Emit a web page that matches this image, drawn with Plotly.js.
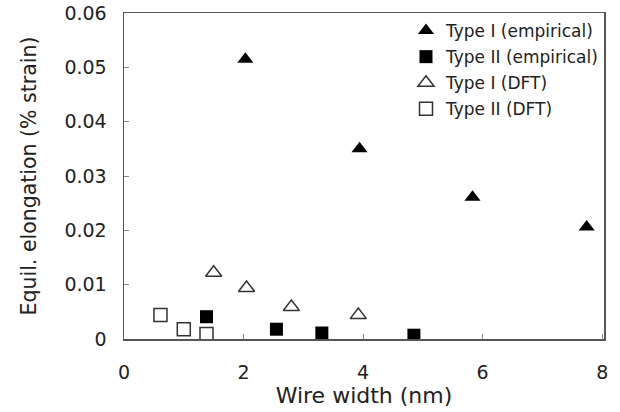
<!DOCTYPE html>
<html>
<head>
<meta charset="utf-8">
<script src="https://cdn.plot.ly/plotly-3.0.1.min.js"></script>
<style>html,body{margin:0;padding:0;background:#fff;}#chart{width:620px;height:412px;}</style>
</head>
<body>
<div id="chart"></div>
<script>
const typeIEmpX = [2.03, 3.94, 5.83, 7.74];
const typeIEmpY = [0.0515, 0.0350, 0.0261, 0.0206];
const typeIIEmpX = [1.38, 2.55, 3.31, 4.85];
const typeIIEmpY = [0.0041, 0.0018, 0.0011, 0.0007];
const typeIDftX = [1.50, 2.05, 2.80, 3.92];
const typeIDftY = [0.0122, 0.0094, 0.0059, 0.0044];
const typeIIDftX = [0.61, 1.00, 1.38];
const typeIIDftY = [0.0044, 0.0018, 0.0009];
const xTicks = [0, 2, 4, 6, 8];
const yTicks = [0, 0.01, 0.02, 0.03, 0.04, 0.05, 0.06];
const yTickText = ['0', '0.01', '0.02', '0.03', '0.04', '0.05', '0.06'];

const FONT = 'DejaVu Sans, Verdana, sans-serif';
const traces = [
  {x: typeIEmpX, y: typeIEmpY, name: 'Type I (empirical)', legendgroup: 'a', mode: 'markers', type: 'scatter',
   marker: {symbol: 'triangle-up', size: 14, color: '#000'}},
  {x: typeIIEmpX, y: typeIIEmpY, name: 'Type II (empirical)', legendgroup: 'b', mode: 'markers', type: 'scatter',
   marker: {symbol: 'square', size: 13, color: '#000'}},
  {x: typeIDftX, y: typeIDftY, name: 'Type I (DFT)', legendgroup: 'c', mode: 'markers', type: 'scatter',
   marker: {symbol: 'triangle-up-open', size: 14, color: '#333', line: {width: 1.5}}},
  {x: typeIIDftX, y: typeIIDftY, name: 'Type II (DFT)', legendgroup: 'd', mode: 'markers', type: 'scatter',
   marker: {symbol: 'square-open', size: 13, color: '#333', line: {width: 1.5}}}
];
const layout = {
  width: 620, height: 412,
  margin: {l: 124, r: 16, t: 13, b: 73},
  paper_bgcolor: '#fff', plot_bgcolor: '#fff',
  font: {family: FONT, color: '#222', size: 18},
  showlegend: true,
  legend: {x: 1.0, xanchor: 'right', y: 1.0, yanchor: 'top', bgcolor: 'rgba(0,0,0,0)',
    font: {family: FONT, size: 17, color: '#222'}, tracegroupgap: 1, itemwidth: 30},
  xaxis: {range: [0, 8.03], tickvals: xTicks, ticktext: xTicks.map(String), ticks: 'inside', ticklen: 5,
    tickcolor: '#888', showgrid: false, zeroline: false, showline: true, linecolor: '#555', linewidth: 1.5,
    mirror: true, ticklabelstandoff: 16, tickfont: {size: 19, color: '#222'},
    title: {text: 'Wire width (nm)', font: {size: 22, color: '#222'}, standoff: 1}},
  yaxis: {range: [0, 0.06], tickvals: yTicks, ticktext: yTickText, ticks: 'inside', ticklen: 5,
    tickcolor: '#888', showgrid: false, zeroline: false, showline: true, linecolor: '#555', linewidth: 1.5,
    mirror: true, ticklabelstandoff: 12, tickfont: {size: 19, color: '#222'},
    title: {text: 'Equil. elongation (% strain)', font: {size: 20.5, color: '#222'}, standoff: 22}}
};
Plotly.newPlot('chart', traces, layout, {displayModeBar: false, staticPlot: true});
</script>
</body>
</html>
